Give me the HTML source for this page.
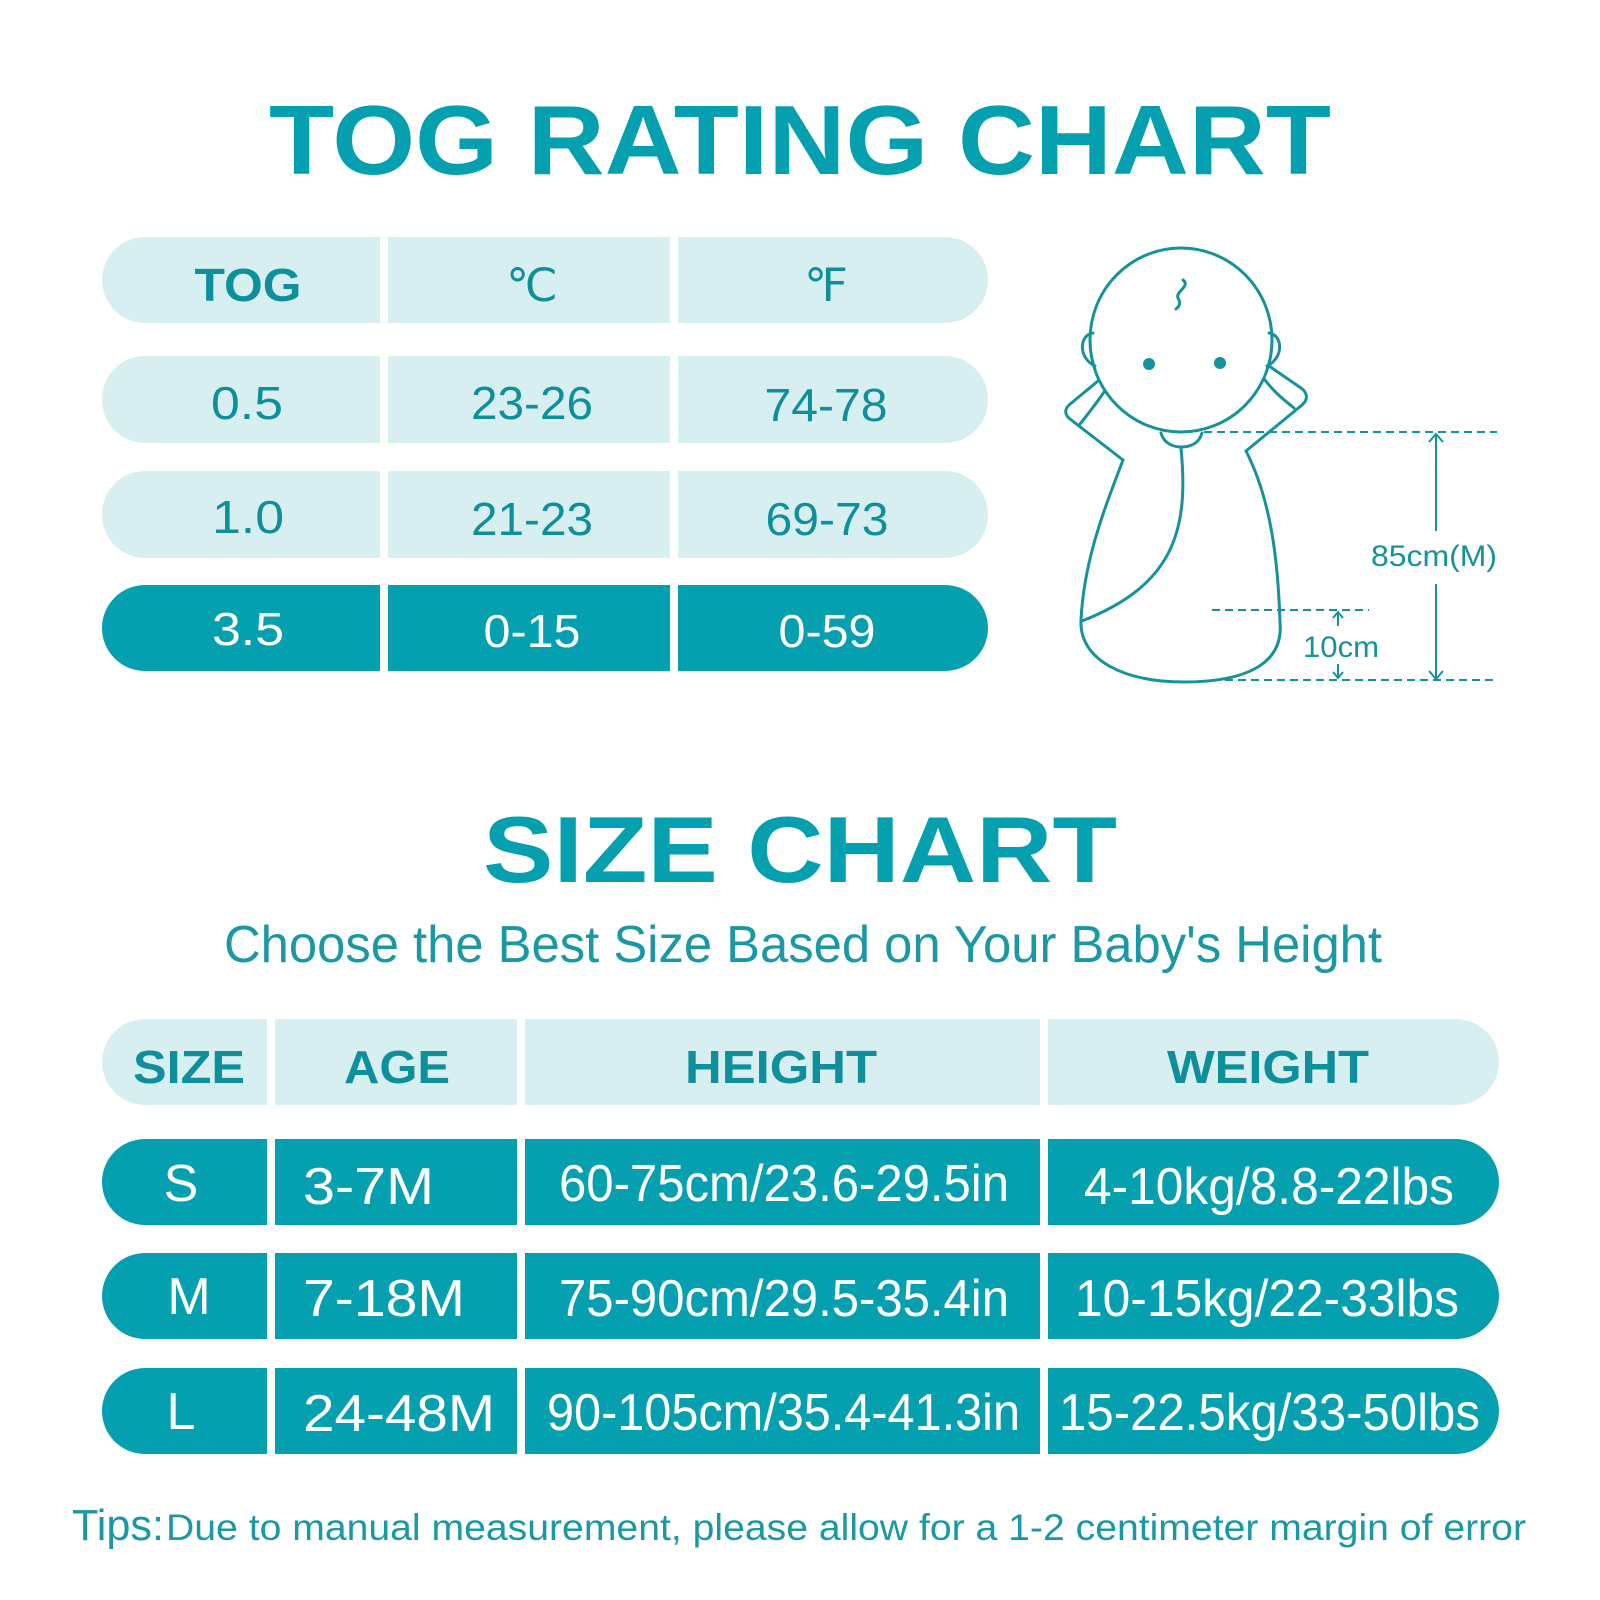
<!DOCTYPE html>
<html><head><meta charset="utf-8"><style>
html,body{margin:0;padding:0;background:#fff;}
svg{display:block;}
text{font-family:"Liberation Sans",sans-serif;}
</style></head><body>
<svg width="1600" height="1600" viewBox="0 0 1600 1600" xmlns="http://www.w3.org/2000/svg">
<rect width="1600" height="1600" fill="#fff"/>
<text x="800" y="174" text-anchor="middle" font-size="98" font-weight="bold" fill="#05a0b0" textLength="1062" lengthAdjust="spacingAndGlyphs">TOG RATING CHART</text>

<g>
<rect x="102" y="237" width="886" height="86" rx="43" fill="#d8eff2"/>
<rect x="102" y="356" width="886" height="87" rx="43" fill="#d8eff2"/>
<rect x="102" y="471" width="886" height="87" rx="43" fill="#d8eff2"/>
<rect x="102" y="585" width="886" height="86" rx="43" fill="#05a0b0"/>
<rect x="380" y="230" width="8" height="460" fill="#fff"/>
<rect x="670" y="230" width="8" height="460" fill="#fff"/>
</g>
<g font-size="46" fill="#0e8f9c" text-anchor="middle">
<text x="248" y="301" font-weight="bold" textLength="107" lengthAdjust="spacingAndGlyphs">TOG</text>
<text x="532" y="301">℃</text>
<text x="826" y="301">℉</text>
<text x="247" y="419" textLength="72" lengthAdjust="spacingAndGlyphs">0.5</text>
<text x="532" y="419" textLength="122" lengthAdjust="spacingAndGlyphs">23-26</text>
<text x="826" y="421" textLength="123" lengthAdjust="spacingAndGlyphs">74-78</text>
<text x="248" y="533" textLength="72" lengthAdjust="spacingAndGlyphs">1.0</text>
<text x="532" y="535" textLength="122" lengthAdjust="spacingAndGlyphs">21-23</text>
<text x="827" y="535" textLength="123" lengthAdjust="spacingAndGlyphs">69-73</text>
</g>
<g font-size="46" fill="#fff" text-anchor="middle">
<text x="248" y="645" textLength="72" lengthAdjust="spacingAndGlyphs">3.5</text>
<text x="532" y="647" textLength="97" lengthAdjust="spacingAndGlyphs">0-15</text>
<text x="827" y="647" textLength="97" lengthAdjust="spacingAndGlyphs">0-59</text>
</g>

<g transform="translate(-6,0)">
<g fill="none" stroke="#16929c" stroke-width="3" stroke-linejoin="round" stroke-linecap="round">
<ellipse cx="1187" cy="340" rx="91" ry="92"/>
<path d="M1099 333 C1085 335 1084 358 1101 366"/>
<path d="M1275 333 C1289 335 1290 358 1273 366"/>
<path d="M1189 280 C1197 286 1181 292 1184 298 C1186 302 1187 305 1182 309"/>
<path d="M1104 381 L1075 405 C1070 410 1071 415 1076 419 L1129 460"/>
<path d="M1110 392 C1102 404 1094 414 1086 424"/>
<path d="M1275 366 L1307 388 C1314 393 1314 400 1308 405 L1252 451"/>
<path d="M1271 380 C1280 392 1290 400 1300 408"/>
<path d="M1167 433 C1170 444 1180 447 1187 447 C1197 447 1205 443 1208 433"/>
<path d="M1129 460 C1110 510 1090 560 1087 620 C1085 660 1130 682 1190 682 C1250 682 1290 665 1286 622 C1284 560 1277 500 1252 451"/>
<path d="M1187 448 C1195 530 1180 585 1088 621"/>
</g>
<circle cx="1155" cy="364" r="6" fill="#16929c"/>
<circle cx="1226" cy="363" r="6" fill="#16929c"/>
<g stroke="#16929c" stroke-width="2" fill="none">
<path d="M1210 432 L1503 432 M1218 610 L1375 610 M1231 680 L1503 680" stroke-dasharray="8 5"/>
<path d="M1442 434 L1442 531 M1442 584 L1442 678 M1435 442 L1442 434 L1449 442 M1435 671 L1442 679 L1449 671"/>
<path d="M1344 612 L1344 626 M1339 618 L1344 612 L1349 618 M1344 664 L1344 678 M1339 672 L1344 678 L1349 672"/>
</g>
<text x="1440" y="566" font-size="30" fill="#16929c" text-anchor="middle" textLength="126" lengthAdjust="spacingAndGlyphs">85cm(M)</text>
<text x="1347" y="657" font-size="30" fill="#16929c" text-anchor="middle" textLength="76" lengthAdjust="spacingAndGlyphs">10cm</text>
</g>

<text x="800" y="882" text-anchor="middle" font-size="94" font-weight="bold" fill="#05a0b0" textLength="634" lengthAdjust="spacingAndGlyphs">SIZE CHART</text>
<text x="803" y="962" text-anchor="middle" font-size="52" fill="#1a98a4" textLength="1158" lengthAdjust="spacingAndGlyphs">Choose the Best Size Based on Your Baby's Height</text>

<g>
<rect x="102" y="1019" width="1397" height="86" rx="43" fill="#d8eff2"/>
<rect x="102" y="1139" width="1397" height="86" rx="43" fill="#05a0b0"/>
<rect x="102" y="1253" width="1397" height="86" rx="43" fill="#05a0b0"/>
<rect x="102" y="1368" width="1397" height="86" rx="43" fill="#05a0b0"/>
<rect x="267" y="1010" width="8" height="460" fill="#fff"/>
<rect x="517" y="1010" width="8" height="460" fill="#fff"/>
<rect x="1040" y="1010" width="8" height="460" fill="#fff"/>
</g>
<g font-size="46" font-weight="bold" fill="#0e8f9c" text-anchor="middle">
<text x="189" y="1083" textLength="112" lengthAdjust="spacingAndGlyphs">SIZE</text>
<text x="397" y="1083" textLength="106" lengthAdjust="spacingAndGlyphs">AGE</text>
<text x="781" y="1083" textLength="192" lengthAdjust="spacingAndGlyphs">HEIGHT</text>
<text x="1268" y="1083" textLength="202" lengthAdjust="spacingAndGlyphs">WEIGHT</text>
</g>
<g font-size="52" fill="#fff">
<text x="181" y="1201" text-anchor="middle">S</text>
<text x="303" y="1204" textLength="131" lengthAdjust="spacingAndGlyphs">3-7M</text>
<text x="559" y="1201" textLength="450" lengthAdjust="spacingAndGlyphs">60-75cm/23.6-29.5in</text>
<text x="1084" y="1204" textLength="370" lengthAdjust="spacingAndGlyphs">4-10kg/8.8-22lbs</text>
<text x="189" y="1314" text-anchor="middle">M</text>
<text x="303" y="1316" textLength="162" lengthAdjust="spacingAndGlyphs">7-18M</text>
<text x="559" y="1316" textLength="450" lengthAdjust="spacingAndGlyphs">75-90cm/29.5-35.4in</text>
<text x="1075" y="1316" textLength="384" lengthAdjust="spacingAndGlyphs">10-15kg/22-33lbs</text>
<text x="181" y="1429" text-anchor="middle">L</text>
<text x="303" y="1431" textLength="192" lengthAdjust="spacingAndGlyphs">24-48M</text>
<text x="547" y="1430" textLength="473" lengthAdjust="spacingAndGlyphs">90-105cm/35.4-41.3in</text>
<text x="1059" y="1430" textLength="421" lengthAdjust="spacingAndGlyphs">15-22.5kg/33-50lbs</text>
</g>
<text x="72" y="1540" font-size="44" fill="#1a98a4" textLength="92" lengthAdjust="spacingAndGlyphs">Tips:</text>
<text x="166" y="1540" font-size="37" fill="#1a98a4" textLength="1360" lengthAdjust="spacingAndGlyphs">Due to manual measurement, please allow for a 1-2 centimeter margin of error</text>
</svg>
</body></html>
